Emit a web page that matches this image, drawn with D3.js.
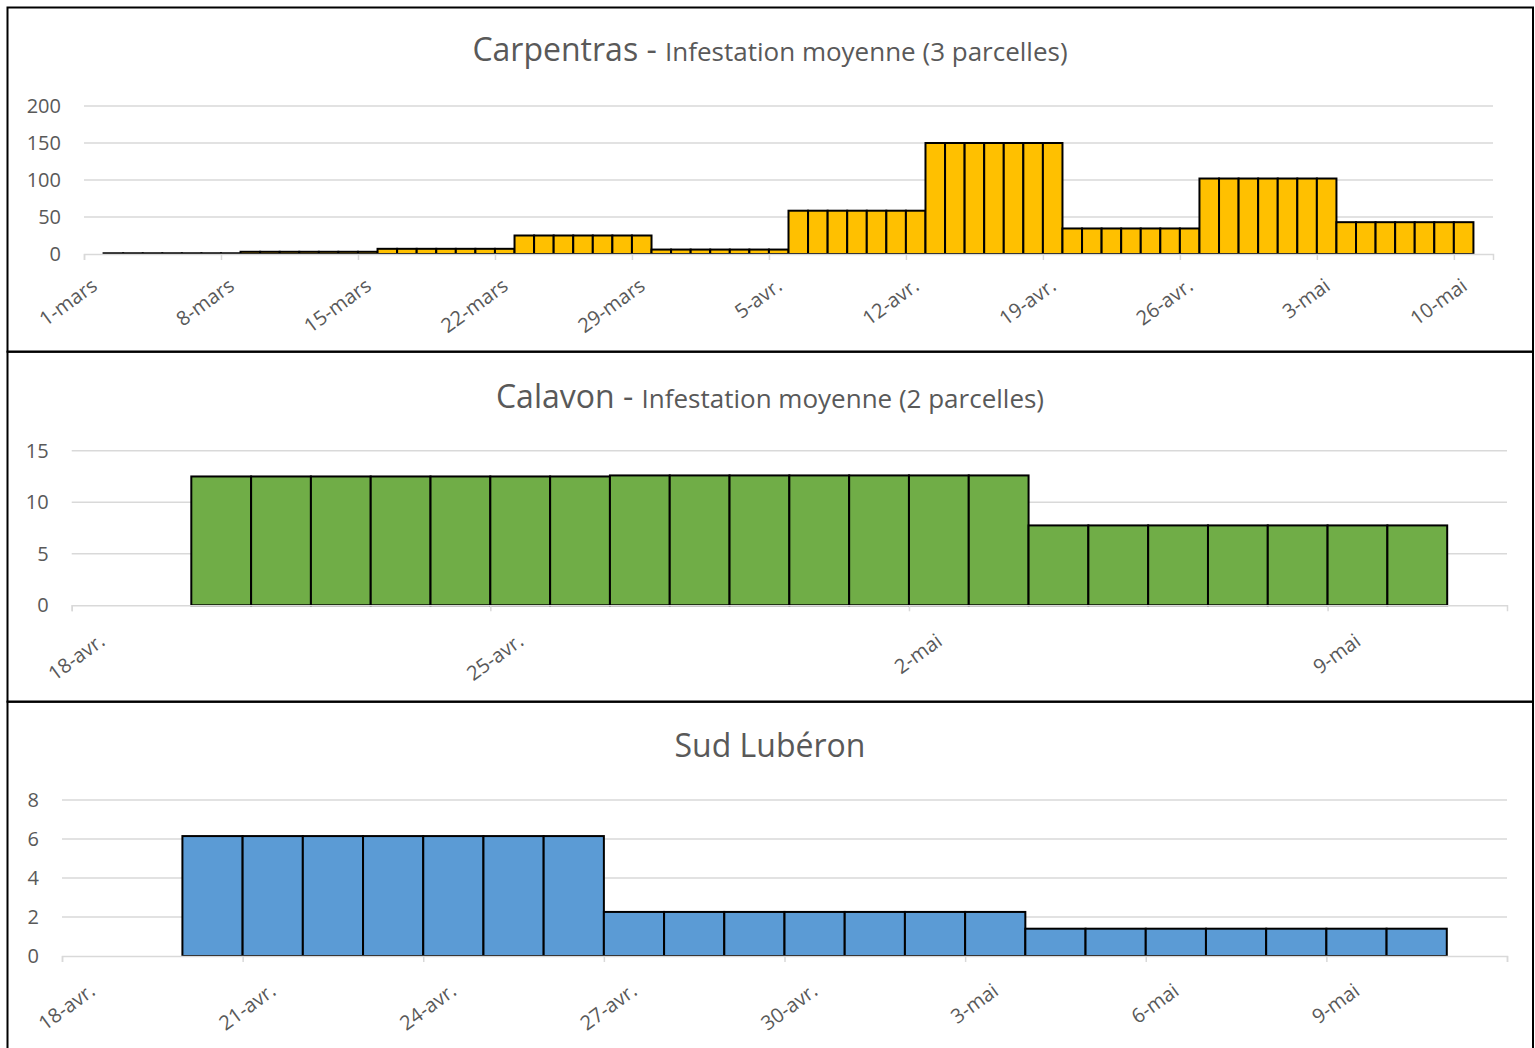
<!DOCTYPE html>
<html lang="fr">
<head>
<meta charset="utf-8">
<title>Infestation moyenne</title>
<script src="https://cdn.jsdelivr.net/npm/d3@7"></script>
<style>
  html, body { margin: 0; padding: 0; background: #fff; }
  svg { display: block; font-family: "Open Sans", "Noto Sans", sans-serif; }
</style>
</head>
<body>
<svg id="chart" width="1535" height="1048"></svg>
<script>
// ---- Carpentras : infestation moyenne journalière (3 parcelles), du 2-mars au 10-mai
const carpentrasValues = [
  1, 1, 1, 1, 1, 1, 1,
  3, 3, 3, 3, 3, 3, 3,
  7, 7, 7, 7, 7, 7, 7,
  25, 25, 25, 25, 25, 25, 25,
  6, 6, 6, 6, 6, 6, 6,
  58.5, 58.5, 58.5, 58.5, 58.5, 58.5, 58.5,
  150, 150, 150, 150, 150, 150, 150,
  34.5, 34.5, 34.5, 34.5, 34.5, 34.5, 34.5,
  102, 102, 102, 102, 102, 102, 102,
  43, 43, 43, 43, 43, 43, 43
];
const carpentrasTickLabels = ["1-mars", "8-mars", "15-mars", "22-mars", "29-mars",
  "5-avr.", "12-avr.", "19-avr.", "26-avr.", "3-mai", "10-mai"];
const carpentrasYTicks = [0, 50, 100, 150, 200];

// ---- Calavon : infestation moyenne journalière (2 parcelles), du 20-avr. au 10-mai
const calavonValues = [
  12.5, 12.5, 12.5, 12.5, 12.5, 12.5, 12.5,
  12.6, 12.6, 12.6, 12.6, 12.6, 12.6, 12.6,
  7.75, 7.75, 7.75, 7.75, 7.75, 7.75, 7.75
];
const calavonTickLabels = ["18-avr.", "25-avr.", "2-mai", "9-mai"];
const calavonYTicks = [0, 5, 10, 15];

// ---- Sud Lubéron : du 20-avr. au 10-mai
const luberonValues = [
  6.15, 6.15, 6.15, 6.15, 6.15, 6.15, 6.15,
  2.26, 2.26, 2.26, 2.26, 2.26, 2.26, 2.26,
  1.4, 1.4, 1.4, 1.4, 1.4, 1.4, 1.4
];
const luberonTickLabels = ["18-avr.", "21-avr.", "24-avr.", "27-avr.", "30-avr.",
  "3-mai", "6-mai", "9-mai", ""];
const luberonYTicks = [0, 2, 4, 6, 8];

const TEXT = "#595959";
const GRID = "#d9d9d9";

const svg = d3.select("#chart");
svg.append("rect").attr("width", 1535).attr("height", 1048).attr("fill", "#fff");

function drawPanel(p) {
  const g = svg.append("g");

  // panel frame
  g.append("rect")
    .attr("x", 7.5).attr("y", p.top)
    .attr("width", 1525.5).attr("height", p.bottom - p.top)
    .attr("fill", "none").attr("stroke", "#000").attr("stroke-width", 2);

  // title
  const t = g.append("text")
    .attr("x", 770).attr("y", p.titleY)
    .attr("text-anchor", "middle").attr("fill", TEXT);
  t.append("tspan").attr("font-size", 32).text(p.title);
  if (p.subtitle) {
    t.append("tspan").attr("font-size", 26).text(p.subtitle);
  }

  const x = d3.scaleUtc().domain([p.axisStart, p.axisEnd]).range([p.x0, p.x1]);
  const y = d3.scaleLinear().domain([0, p.yMax]).range([p.y0, p.yTop]);

  // horizontal gridlines
  g.append("g").selectAll("line")
    .data(p.yTicks.filter(v => v > 0))
    .join("line")
    .attr("x1", p.x0).attr("x2", p.x1)
    .attr("y1", d => y(d)).attr("y2", d => y(d))
    .attr("stroke", GRID).attr("stroke-width", 1.5);

  // y tick labels
  g.append("g").selectAll("text")
    .data(p.yTicks)
    .join("text")
    .attr("x", p.x0 - 23).attr("y", d => y(d))
    .attr("dy", "0.35em")
    .attr("text-anchor", "end")
    .attr("font-size", 20).attr("fill", TEXT)
    .text(d => d);

  // one bar per day
  const days = d3.utcDay.range(p.barStart, d3.utcDay.offset(p.barStart, p.values.length));
  const bars = days.map((d, i) => ({ date: d, value: p.values[i] }));
  g.append("g").selectAll("rect")
    .data(bars)
    .join("rect")
    .attr("x", d => x(d.date))
    .attr("width", d => x(d3.utcDay.offset(d.date, 1)) - x(d.date))
    .attr("y", d => y(d.value))
    .attr("height", d => y(0) - y(d.value))
    .attr("fill", p.color)
    .attr("stroke", "#000").attr("stroke-width", 2);

  // date axis
  const tickDates = d3.utcDay.range(p.axisStart, d3.utcDay.offset(p.axisEnd, 1), p.tickStep)
    .slice(0, p.tickLabels.length);
  const axis = d3.axisBottom(x)
    .tickValues(tickDates)
    .tickSize(6)
    .tickFormat((d, i) => p.tickLabels[i]);
  const ax = g.append("g")
    .attr("transform", `translate(0,${p.y0})`)
    .call(axis);
  ax.select(".domain").attr("stroke", GRID).attr("stroke-width", 1.5);
  ax.selectAll(".tick line").attr("stroke", GRID).attr("stroke-width", 1.5);
  ax.selectAll(".tick text")
    .attr("fill", TEXT)
    .attr("font-size", 20)
    .attr("font-family", "Open Sans, Noto Sans, sans-serif")
    .attr("text-anchor", "end")
    .attr("x", 0).attr("y", 0).attr("dy", "0.35em")
    .attr("transform", `translate(${p.labelDx},${p.labelDy}) rotate(-36)`);
}

drawPanel({
  top: 7.5, bottom: 351.7, titleY: 61,
  title: "Carpentras - ", subtitle: "Infestation moyenne (3 parcelles)",
  axisStart: new Date(Date.UTC(2021, 2, 1)), axisEnd: new Date(Date.UTC(2021, 4, 12)),
  barStart: new Date(Date.UTC(2021, 2, 2)),
  x0: 84, x1: 1493, y0: 254, yTop: 106, yMax: 200,
  yTicks: carpentrasYTicks, values: carpentrasValues,
  tickLabels: carpentrasTickLabels, tickStep: 7,
  labelDx: 10, labelDy: 29, color: "#FFC000"
});

drawPanel({
  top: 351.7, bottom: 701.7, titleY: 408,
  title: "Calavon - ", subtitle: "Infestation moyenne (2 parcelles)",
  axisStart: new Date(Date.UTC(2021, 3, 18)), axisEnd: new Date(Date.UTC(2021, 4, 12)),
  barStart: new Date(Date.UTC(2021, 3, 20)),
  x0: 71.7, x1: 1507, y0: 605.3, yTop: 450.7, yMax: 15,
  yTicks: calavonYTicks, values: calavonValues,
  tickLabels: calavonTickLabels, tickStep: 7,
  labelDx: 30, labelDy: 33, color: "#70AD47"
});

drawPanel({
  top: 701.7, bottom: 1070, titleY: 757,
  title: "Sud Lubéron", subtitle: null,
  axisStart: new Date(Date.UTC(2021, 3, 18)), axisEnd: new Date(Date.UTC(2021, 4, 12)),
  barStart: new Date(Date.UTC(2021, 3, 20)),
  x0: 62, x1: 1507, y0: 956, yTop: 800, yMax: 8,
  yTicks: luberonYTicks, values: luberonValues,
  tickLabels: luberonTickLabels, tickStep: 3,
  labelDx: 30, labelDy: 32, color: "#5B9BD5"
});
</script>
</body>
</html>
